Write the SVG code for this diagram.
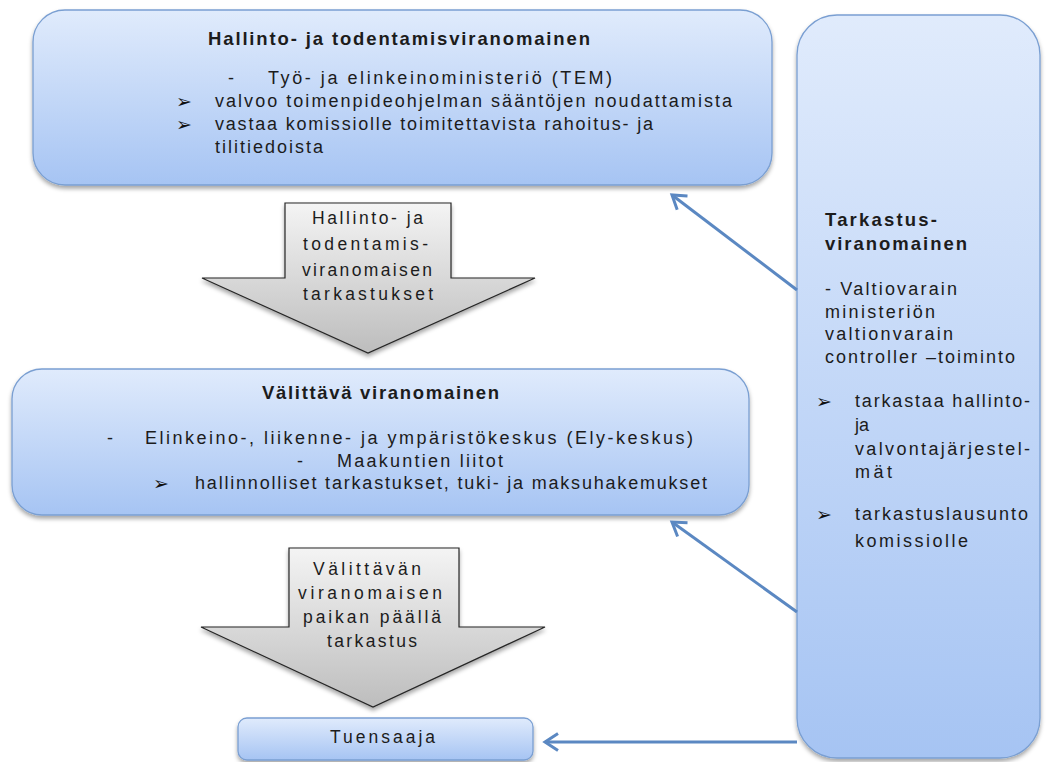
<svg xmlns="http://www.w3.org/2000/svg" width="1049" height="762" viewBox="0 0 1049 762">
<style>
.t{font-family:"Liberation Sans",Arial,sans-serif;font-size:18px;fill:#1c1c1c}
.b{font-weight:bold;font-size:18.5px}
.s{font-size:18px}
.a{font-size:17.5px}
.m{font-family:"DejaVu Sans",sans-serif;font-size:19px;font-weight:bold;fill:#111}
.box{fill:url(#gBlue);stroke:#7a9fd2;stroke-width:1.3;filter:url(#sh)}
.blk{fill:url(#gGray);stroke:#262626;stroke-width:1.2;filter:url(#sh)}
.con{fill:none;stroke:#5b88c2;stroke-width:3;marker-end:url(#ah)}
</style>
<defs>
<linearGradient id="gBlue" x1="0" y1="0" x2="0" y2="1">
<stop offset="0" stop-color="#e0ebfc"/>
<stop offset="1" stop-color="#a6c4f3"/>
</linearGradient>
<linearGradient id="gGray" x1="0" y1="0" x2="0" y2="1">
<stop offset="0" stop-color="#f4f4f4"/>
<stop offset="1" stop-color="#bdbdbd"/>
</linearGradient>
<filter id="sh" x="-5%" y="-5%" width="110%" height="120%">
<feDropShadow dx="0" dy="3" stdDeviation="2" flood-color="#000" flood-opacity="0.35"/>
</filter>
<marker id="ah" markerUnits="userSpaceOnUse" markerWidth="22" markerHeight="22" refX="17" refY="11" orient="auto">
<path d="M4,2.5 L17,11 L4,19.5" fill="none" stroke="#5b88c2" stroke-width="3"/>
</marker>
</defs>
<rect width="1049" height="762" fill="#ffffff"/>

<g id="hallinto">
<rect class="box" x="33" y="10" width="739" height="175" rx="32"/>
<text class="t b" x="208" y="45" textLength="382">Hallinto- ja todentamisviranomainen</text>
<text class="t" x="228" y="84">-</text>
<text class="t" x="268" y="84" textLength="344">Työ- ja elinkeinoministeriö (TEM)</text>
<text class="m" x="176" y="108">➢</text>
<text class="t" x="215" y="107" textLength="517">valvoo toimenpideohjelman sääntöjen noudattamista</text>
<text class="m" x="176" y="131">➢</text>
<text class="t" x="215" y="130" textLength="438">vastaa komissiolle toimitettavista rahoitus- ja</text>
<text class="t" x="215" y="153" textLength="108">tilitiedoista</text>
</g>

<g id="arrow1">
<path class="blk" d="M285,203 H451 V278 H535 L368,353 L202,278 H285 Z"/>
<text class="t a" x="312" y="224" textLength="111">Hallinto- ja</text>
<text class="t a" x="303" y="250" textLength="125">todentamis-</text>
<text class="t a" x="302" y="276" textLength="130">viranomaisen</text>
<text class="t a" x="303" y="300" textLength="130">tarkastukset</text>
</g>

<g id="valittava">
<rect class="box" x="12" y="369" width="737" height="146" rx="30"/>
<text class="t b" x="262" y="399" textLength="237">Välittävä viranomainen</text>
<text class="t" x="107" y="444">-</text>
<text class="t" x="145" y="444" textLength="548">Elinkeino-, liikenne- ja ympäristökeskus (Ely-keskus)</text>
<text class="t" x="297" y="467">-</text>
<text class="t" x="337" y="467" textLength="166">Maakuntien liitot</text>
<text class="m" x="153" y="490">➢</text>
<text class="t" x="195" y="489" textLength="512">hallinnolliset tarkastukset, tuki- ja maksuhakemukset</text>
</g>

<g id="arrow2">
<path class="blk" d="M289,548 H459 V627 H545 L373,707 L201,627 H289 Z"/>
<text class="t a" x="313" y="575" textLength="108">Välittävän</text>
<text class="t a" x="298" y="599" textLength="144">viranomaisen</text>
<text class="t a" x="303" y="623" textLength="138">paikan päällä</text>
<text class="t a" x="327" y="647" textLength="90">tarkastus</text>
</g>

<g id="tuensaaja">
<rect class="box" x="238" y="718" width="295" height="42" rx="9"/>
<text class="t a" x="330" y="743" textLength="105">Tuensaaja</text>
</g>

<g id="tarkastus">
<rect class="box" x="797" y="15" width="243" height="743" rx="40"/>
<text class="t b" x="825" y="226" textLength="112">Tarkastus-</text>
<text class="t b" x="825" y="250" textLength="142">viranomainen</text>
<text class="t s" x="825" y="295" textLength="132">- Valtiovarain</text>
<text class="t s" x="825" y="318" textLength="110">ministeriön</text>
<text class="t s" x="825" y="340" textLength="128">valtionvarain</text>
<text class="t s" x="825" y="363" textLength="190">controller –toiminto</text>
<text class="m" x="816" y="408">➢</text>
<text class="t s" x="855" y="407" textLength="175">tarkastaa hallinto-</text>
<text class="t s" x="855" y="431">ja</text>
<text class="t s" x="855" y="455" textLength="175">valvontajärjestel-</text>
<text class="t s" x="855" y="478" textLength="37">mät</text>
<text class="m" x="816" y="521">➢</text>
<text class="t s" x="855" y="520" textLength="173">tarkastuslausunto</text>
<text class="t s" x="855" y="547" textLength="113">komissiolle</text>
</g>

<g id="connectors">
<line class="con" x1="797" y1="290" x2="672" y2="195"/>
<line class="con" x1="797" y1="612" x2="672" y2="522"/>
<line class="con" x1="797" y1="742" x2="545" y2="742"/>
</g>
</svg>
